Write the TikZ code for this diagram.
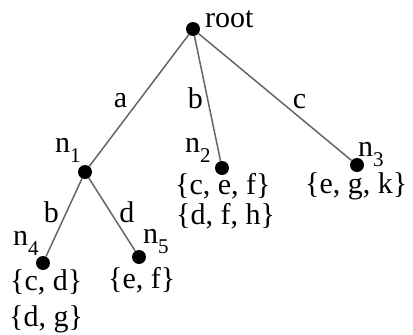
\documentclass[tikz,border=0pt]{standalone}
\usepackage{fontspec}
\setmainfont{Liberation Serif}
\newcommand{\nsub}[1]{n\raisebox{-10pt}{\fontsize{21}{21}\selectfont #1}}

\begin{document}
\begin{tikzpicture}[
  x=1pt,y=-1pt,
  font=\fontsize{30}{30}\selectfont,
  dot/.style={circle,fill=black,inner sep=0pt,minimum size=14pt},
  edge/.style={draw=black!60,line width=1.5pt},
  elabel/.style={inner sep=0pt},
  nlabel/.style={anchor=base west,inner sep=0pt},
  setline/.style={anchor=base west,inner sep=0pt}
]
\useasboundingbox (0,0) rectangle (413,335);
% vertices
\node[dot] (root) at (193,29) {};
\node[dot] (n1) at (85,172) {};
\node[dot] (n2) at (222,168) {};
\node[dot] (n3) at (357,165) {};
\node[dot] (n4) at (43,263) {};
\node[dot] (n5) at (139,257) {};
% vertex names
\node[nlabel] (rootname) at (205,27) {root};
\node[nlabel] (n1name) at (55,152) {\nsub{1}};
\node[nlabel] (n2name) at (185,152) {\nsub{2}};
\node[nlabel] (n3name) at (358,156) {\nsub{3}};
\node[nlabel] (n4name) at (13,245) {\nsub{4}};
\node[nlabel] (n5name) at (143,243) {\nsub{5}};
% item sets
\node[setline] (n2seta) at (175,194) {\{c, e, f\}};
\node[setline] (n2setb) at (176,224) {\{d, f, h\}};
\node[setline] (n3seta) at (305,193) {\{e, g, k\}};
\node[setline] (n4seta) at (10,290) {\{c, d\}};
\node[setline] (n4setb) at (9,326) {\{d, g\}};
\node[setline] (n5seta) at (108,288) {\{e, f\}};
% edges
\draw[edge] (root) -- node[elabel,left=11pt]{a} (n1);
\draw[edge] (root) -- node[elabel,left=4pt]{b} (n2);
\draw[edge] (root) -- node[elabel,pos=.54,right=11pt]{c} (n3);
\draw[edge] (n1) -- node[elabel,pos=.43,left=7pt]{b} (n4);
\draw[edge] (n1) -- node[elabel,pos=.47,right=8pt]{d} (n5);
\end{tikzpicture}
\end{document}
